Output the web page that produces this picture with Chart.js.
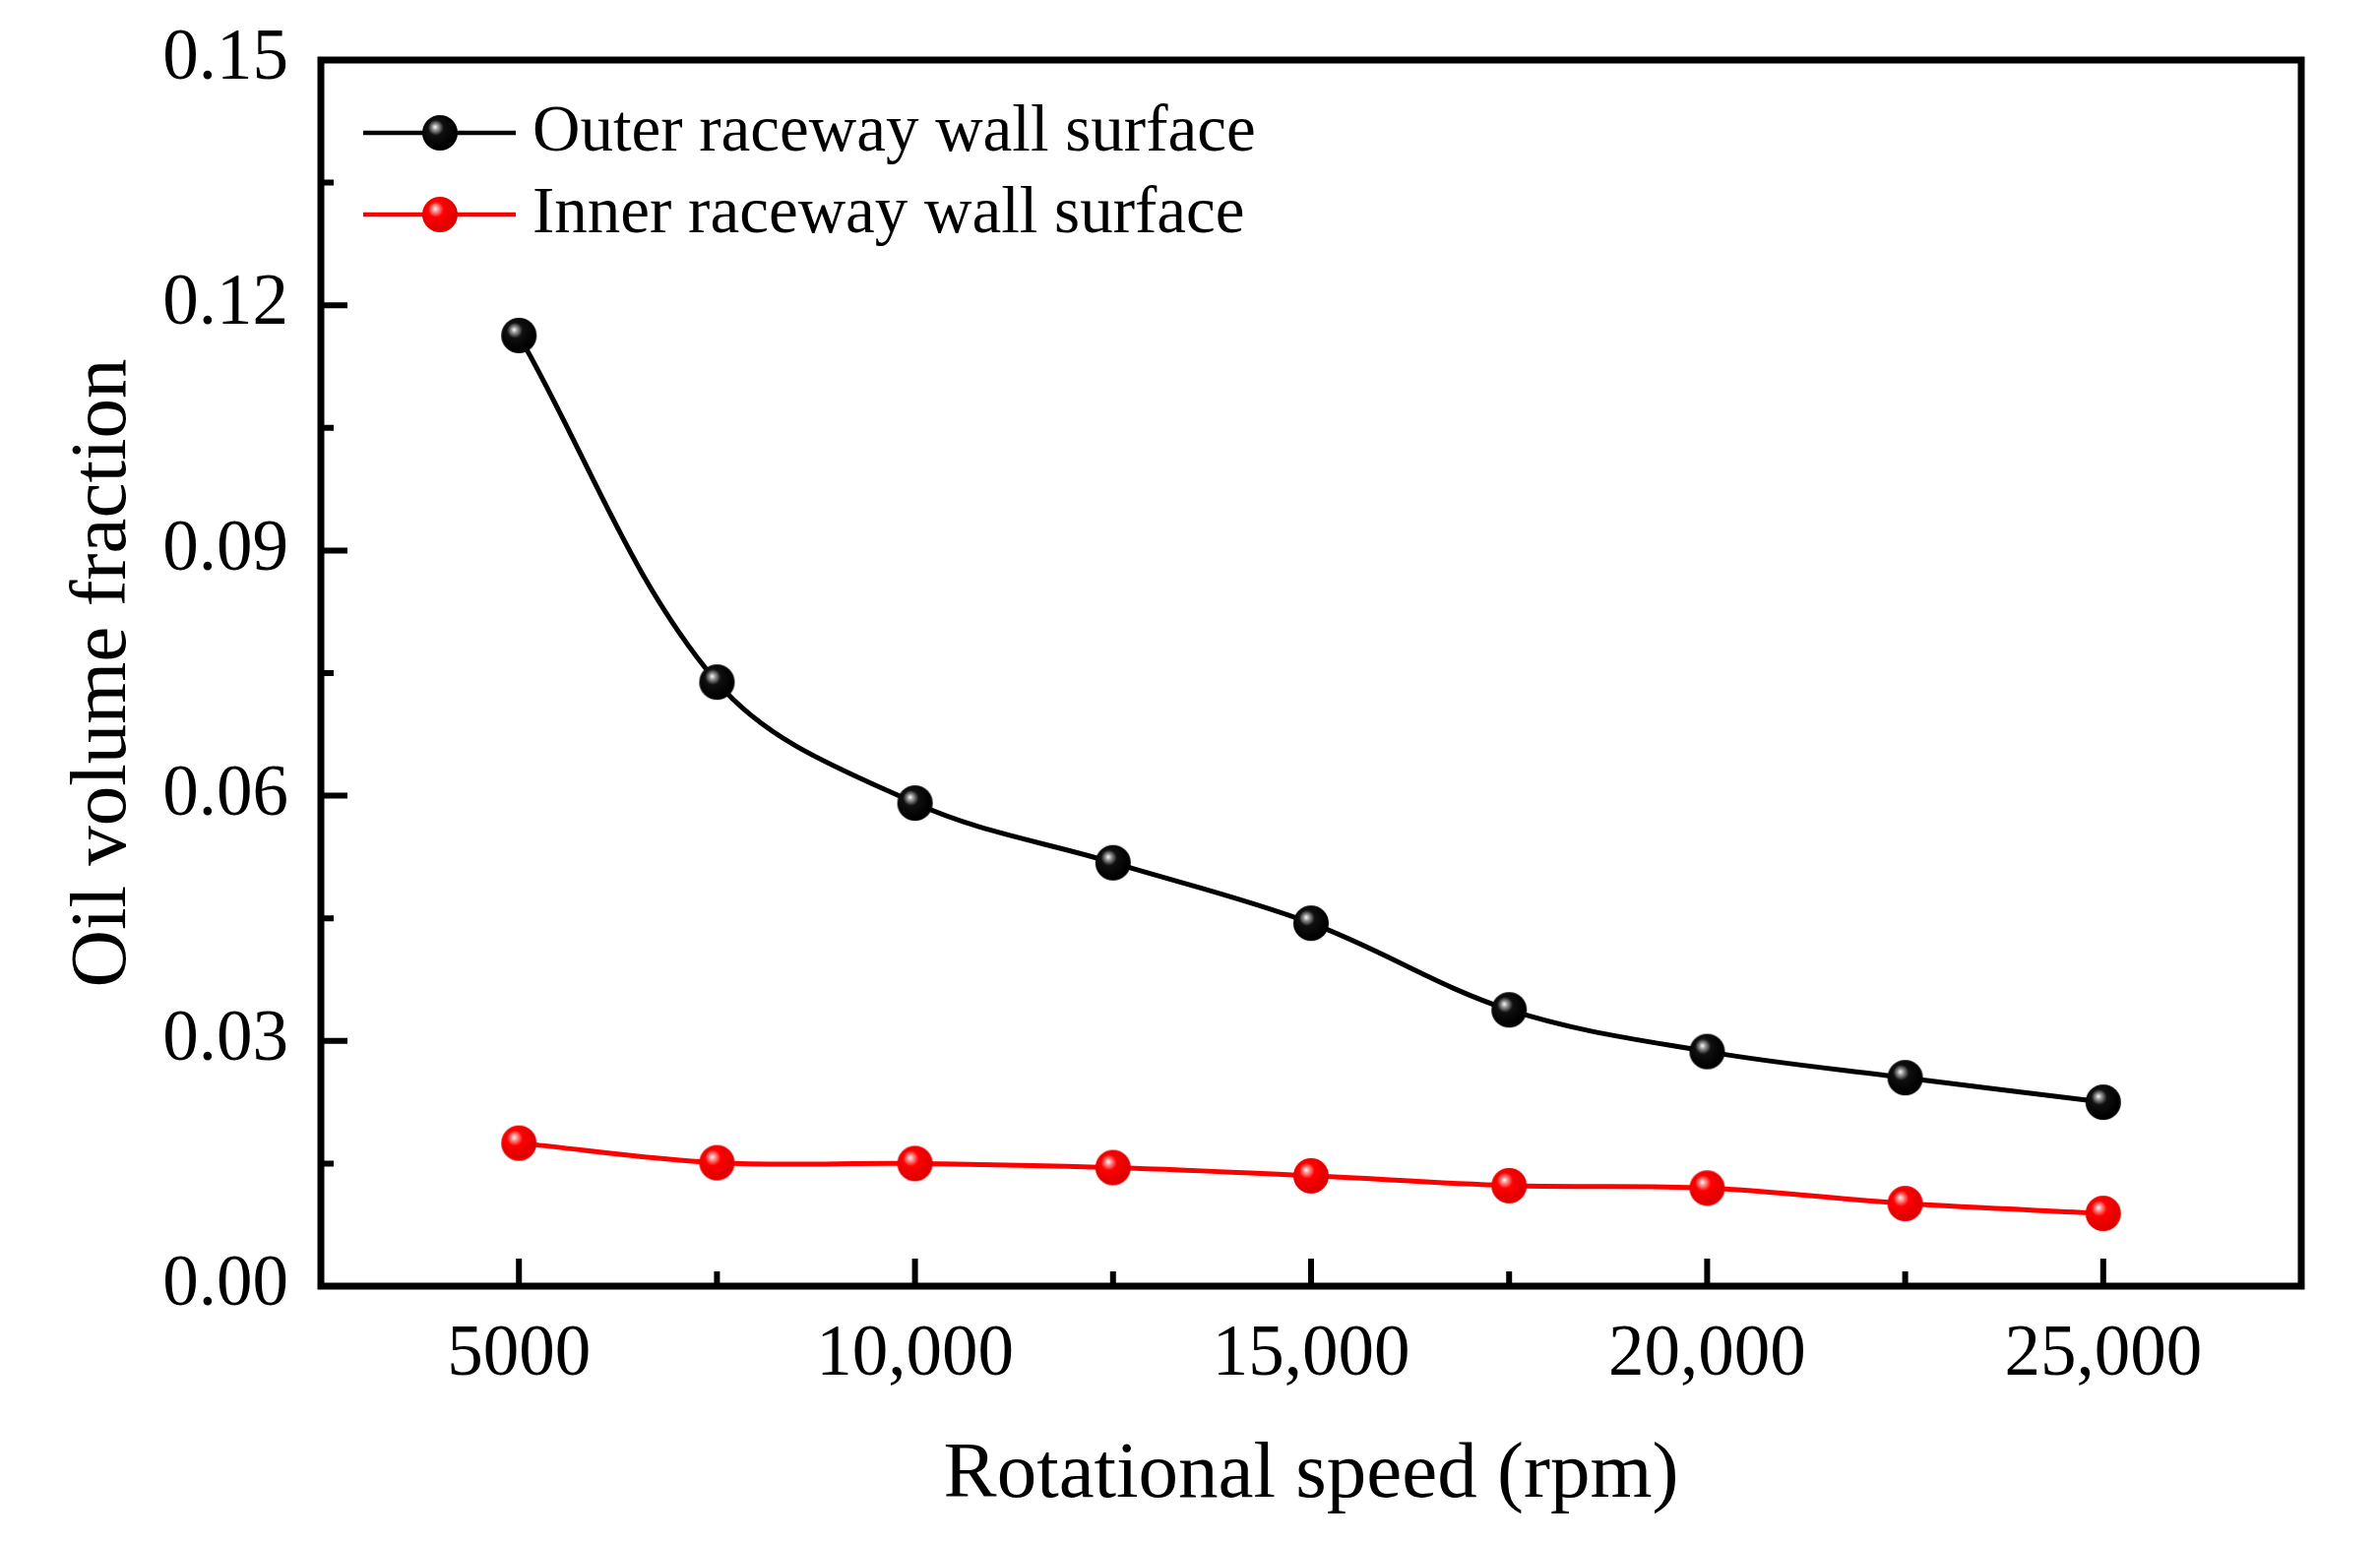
<!DOCTYPE html>
<html>
<head>
<meta charset="utf-8">
<script src="https://cdn.jsdelivr.net/npm/chart.js@4.4.1/dist/chart.umd.min.js"></script>
<style>
html, body { margin: 0; padding: 0; background: #fff; }
canvas { display: block; }
</style>
</head>
<body>
<canvas id="chart" width="2418" height="1567"></canvas>
<script>
const speeds = [5000, 7500, 10000, 12500, 15000, 17500, 20000, 22500, 25000];
const outerWall = [0.1163, 0.0739, 0.0591, 0.0518, 0.0444, 0.0338, 0.0287, 0.0255, 0.0225];
const innerWall = [0.0175, 0.0151, 0.0150, 0.0145, 0.0135, 0.0123, 0.0120, 0.0101, 0.0089];
const seriesNames = ['Outer raceway wall surface', 'Inner raceway wall surface'];

const xTicks = [5000, 10000, 15000, 20000, 25000];
const xTickLabels = ['5000', '10,000', '15,000', '20,000', '25,000'];
const xMinorTicks = [7500, 12500, 17500, 22500];
const yTicks = [0, 0.03, 0.06, 0.09, 0.12, 0.15];
const yTickLabels = ['0.00', '0.03', '0.06', '0.09', '0.12', '0.15'];
const yMinorTicks = [0.015, 0.045, 0.075, 0.105, 0.135];

const FONT = 'Liberation Serif';

// shaded ball used as point marker
function makeBall(mid, light, dark) {
    const r = 18;
    const c = document.createElement('canvas');
    c.width = c.height = 38;
    const g = c.getContext('2d');
    const cx = 19, cy = 19;
    const grad = g.createRadialGradient(cx - 5, cy - 6, 0, cx - 3, cy - 4, r * 1.05);
    grad.addColorStop(0, '#ffffff');
    grad.addColorStop(0.15, light);
    grad.addColorStop(0.42, mid);
    grad.addColorStop(1, dark);
    g.fillStyle = grad;
    g.beginPath();
    g.arc(cx, cy, r, 0, Math.PI * 2);
    g.fill();
    return c;
}

const blackBall = makeBall('#101010', '#a0a0a0', '#000000');
const redBall = makeBall('#ff0000', '#ff9a9a', '#e00000');

function toPoints(vals) {
    return speeds.map((s, i) => ({x: s, y: vals[i]}));
}

const frameTicks = {
    id: 'frameTicks',
    beforeDatasetsDraw(chart) {
        const {ctx, chartArea: a, scales} = chart;
        ctx.save();
        ctx.strokeStyle = '#000';
        ctx.lineWidth = 6;
        ctx.lineCap = 'butt';
        ctx.beginPath();
        xTicks.forEach(v => {
            const px = scales.x.getPixelForValue(v);
            ctx.moveTo(px, a.bottom); ctx.lineTo(px, a.bottom - 28);
        });
        xMinorTicks.forEach(v => {
            const px = scales.x.getPixelForValue(v);
            ctx.moveTo(px, a.bottom); ctx.lineTo(px, a.bottom - 15);
        });
        yTicks.forEach(v => {
            const py = scales.y.getPixelForValue(v);
            ctx.moveTo(a.left, py); ctx.lineTo(a.left + 27, py);
        });
        yMinorTicks.forEach(v => {
            const py = scales.y.getPixelForValue(v);
            ctx.moveTo(a.left, py); ctx.lineTo(a.left + 13, py);
        });
        ctx.stroke();
        ctx.lineWidth = 7;
        ctx.strokeRect(a.left, a.top, a.right - a.left, a.bottom - a.top);
        ctx.restore();
    }
};

const insideLegend = {
    id: 'insideLegend',
    afterDraw(chart) {
        const {ctx, chartArea: a} = chart;
        ctx.save();
        chart.data.datasets.forEach((ds, i) => {
            const y = a.top + 74 + i * 83;
            const x0 = a.left + 43;
            ctx.strokeStyle = ds.borderColor;
            ctx.lineWidth = 4.5;
            ctx.beginPath();
            ctx.moveTo(x0, y);
            ctx.lineTo(x0 + 155, y);
            ctx.stroke();
            const img = ds.pointStyle;
            ctx.drawImage(img, x0 + 78 - img.width / 2, y - img.height / 2);
            ctx.font = '67px "' + FONT + '"';
            ctx.fillStyle = '#000';
            ctx.textBaseline = 'middle';
            ctx.textAlign = 'left';
            ctx.fillText(ds.label, x0 + 172, y);
        });
        ctx.restore();
    }
};

new Chart(document.getElementById('chart').getContext('2d'), {
    type: 'line',
    data: {
        datasets: [
            {
                label: seriesNames[0],
                data: toPoints(outerWall),
                borderColor: '#000000',
                borderWidth: 5,
                tension: 0.35,
                pointStyle: blackBall,
                pointRadius: 18
            },
            {
                label: seriesNames[1],
                data: toPoints(innerWall),
                borderColor: '#ff0000',
                borderWidth: 5,
                tension: 0.35,
                pointStyle: redBall,
                pointRadius: 18
            }
        ]
    },
    options: {
        responsive: false,
        animation: false,
        devicePixelRatio: 1,
        layout: {padding: {top: 61, right: 80, left: 0, bottom: 0}},
        plugins: {legend: {display: false}, tooltip: {enabled: false}},
        scales: {
            x: {
                type: 'linear',
                min: 2500,
                max: 27500,
                afterBuildTicks: s => { s.ticks = xTicks.map(v => ({value: v})); },
                afterFit: s => { s.height = 260; },
                grid: {display: false},
                border: {display: false},
                ticks: {
                    color: '#000',
                    padding: 19,
                    maxRotation: 0,
                    font: {family: FONT, size: 73},
                    callback: v => xTickLabels[xTicks.indexOf(v)]
                },
                title: {
                    display: true,
                    text: 'Rotational speed (rpm)',
                    color: '#000',
                    font: {family: FONT, size: 81},
                    padding: {bottom: 19}
                }
            },
            y: {
                type: 'linear',
                min: 0,
                max: 0.15,
                afterBuildTicks: s => { s.ticks = yTicks.map(v => ({value: v})); },
                afterFit: s => { s.width = 326; s.paddingTop = 0; s.paddingBottom = 0; },
                grid: {display: false},
                border: {display: false},
                ticks: {
                    color: '#000',
                    padding: 25,
                    font: {family: FONT, size: 73},
                    callback: v => yTickLabels[yTicks.indexOf(v)]
                },
                title: {
                    display: true,
                    text: 'Oil volume fraction',
                    color: '#000',
                    font: {family: FONT, size: 81},
                    padding: {top: 57}
                }
            }
        }
    },
    plugins: [frameTicks, insideLegend]
});
</script>
</body>
</html>
